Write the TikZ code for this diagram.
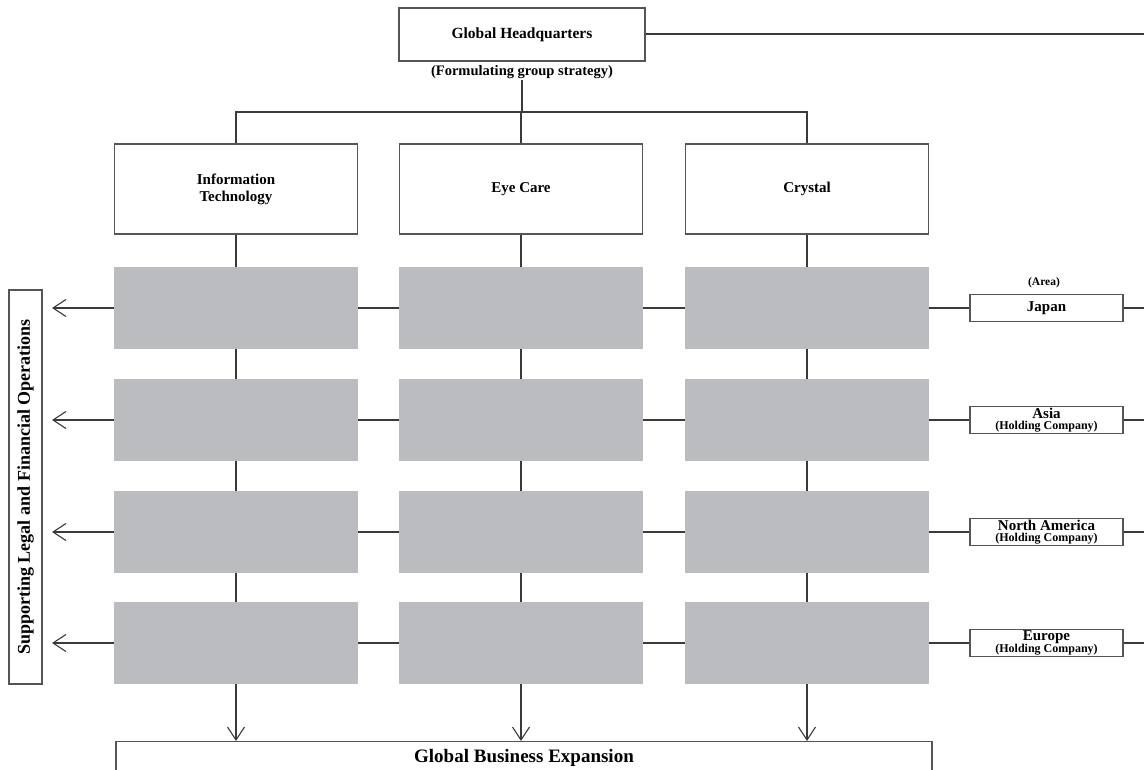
\documentclass[tikz,border=0pt]{standalone}
\usepackage{fontspec}
\setmainfont{Liberation Serif}
\usetikzlibrary{arrows.meta}
\definecolor{ln}{HTML}{3A3A3A}
\definecolor{bx}{HTML}{555555}
\definecolor{gr}{HTML}{BBBCC0}
\tikzset{
  wbox/.style={draw=bx, line width=1.3pt, fill=white, inner sep=0pt, align=center, font=\bfseries},
  gbox/.style={fill=gr, inner sep=0pt, minimum width=244pt, minimum height=82pt},
  conn/.style={draw=ln, line width=1.2pt},
  arr/.style={conn, -{Straight Barb[length=13pt, width=17pt, line width=1.1pt]}},
  lbl/.style={inner sep=0pt, font=\bfseries, align=center},
  areabox/.style={wbox, minimum width=153pt, minimum height=27pt, font=\bfseries\fontsize{15}{11}\selectfont},
  divbox/.style={wbox, minimum width=243pt, minimum height=90pt, font=\bfseries\fontsize{15}{17}\selectfont}
}
\newcommand{\holdco}{{\fontsize{12}{11}\selectfont(Holding Company)}}
\begin{document}
\begin{tikzpicture}[x=1pt, y=-1pt]
\useasboundingbox (0,0) rectangle (1144,770);
\clip (0,0) rectangle (1144,770);
% headquarters
\node[wbox, minimum width=246pt, minimum height=53pt, font=\bfseries\fontsize{15.5}{17}\selectfont] (hq) at (522,34.5) {Global Headquarters};
\node[lbl, font=\bfseries\fontsize{14.5}{16}\selectfont] (sub) at (522,72.5) {(Formulating group strategy)};
\coordinate (hqend) at (1144,34);
\draw[conn] (hq.east |- hqend) -- (hqend);
% divisions
\node[divbox] (it) at (236,189) {Information\\Technology};
\node[divbox] (ec) at (521,189) {Eye Care};
\node[divbox] (cr) at (807,189) {Crystal};
\coordinate (bar) at (522,112);
\draw[conn] (sub.south) ++(0,1) -- (bar);
\draw[conn] (it.north) |- (bar) -| (cr.north);
\draw[conn] (ec.north) -- (ec.north |- bar);
% grey grid
\foreach \r/\y in {1/308,2/420,3/532,4/643}{
  \node[gbox] (g\r1) at (236,\y) {};
  \node[gbox] (g\r2) at (521,\y) {};
  \node[gbox] (g\r3) at (807,\y) {};
}
% bottom box
\node[wbox, minimum width=816pt, minimum height=40pt, anchor=north] (exp) at (524,741) {};
\node[lbl, font=\bfseries\fontsize{19}{21}\selectfont] (expt) at (524,758) {Global Business Expansion};
% verticals per column
\foreach \c/\d in {1/it,2/ec,3/cr}{
  \draw[conn] (\d.south) -- (g1\c.north);
  \draw[conn] (g1\c.south) -- (g2\c.north);
  \draw[conn] (g2\c.south) -- (g3\c.north);
  \draw[conn] (g3\c.south) -- (g4\c.north);
  \draw[arr] (g4\c.south) -- (g4\c.south |- exp.north);
}
% left box
\node[wbox, minimum width=394pt, minimum height=33pt, rotate=90, font=\bfseries\fontsize{18}{20}\selectfont] (sup) at (25.5,487) {Supporting Legal and Financial Operations};
% area boxes
\node[lbl, font=\bfseries\fontsize{11.5}{13}\selectfont] (area) at (1044,283) {(Area)};
\node[areabox] (jp) at (1046.5,308) {Japan};
\node[areabox] (as) at (1046.5,420) {Asia\\\holdco};
\node[areabox] (na) at (1046.5,532) {North America\\\holdco};
\node[areabox] (eu) at (1046.5,643) {Europe\\\holdco};
% row connectors
\foreach \r/\a in {1/jp,2/as,3/na,4/eu}{
  \coordinate (lend\r) at (52, 0 |- g\r1.west);
  \coordinate (rend\r) at (1144, 0 |- \a.east);
  \draw[arr] (g\r1.west) -- (g\r1.west -| lend\r);
  \draw[conn] (g\r1.east) -- (g\r2.west);
  \draw[conn] (g\r2.east) -- (g\r3.west);
  \draw[conn] (g\r3.east) -- (g\r3.east -| \a.west);
  \draw[conn] (\a.east) -- (rend\r);
}
\end{tikzpicture}
\end{document}
